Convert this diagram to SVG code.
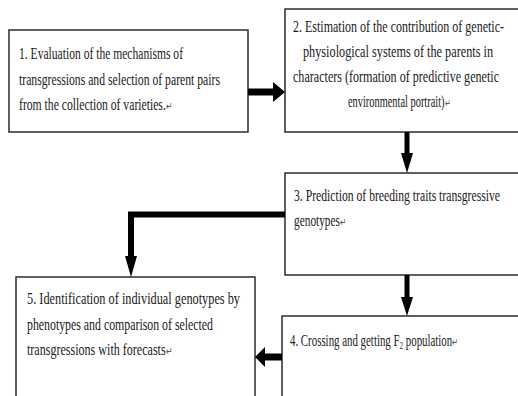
<svg xmlns="http://www.w3.org/2000/svg" width="518" height="396" viewBox="0 0 518 396">
<style>
.box{fill:#fff;stroke:#2b2b2b;stroke-width:1.5}
.t{font-family:"Liberation Serif","Times New Roman",serif;font-size:17px;fill:#1a1a1a}
.pm{font-size:11px;fill:#555}
.c{stroke:#000;fill:none}
.h{fill:#000;stroke:none}
</style>
<rect width="518" height="396" fill="#fff"/>
<g id="node1">
<rect class="box" x="9" y="30" width="239" height="102"/>
<text class="t" x="19" y="59" textLength="164" lengthAdjust="spacingAndGlyphs">1. Evaluation of the mechanisms of</text>
<text class="t" x="19" y="85" textLength="201" lengthAdjust="spacingAndGlyphs">transgressions and selection of parent pairs</text>
<text class="t" x="19" y="110" textLength="153" lengthAdjust="spacingAndGlyphs">from the collection of varieties.<tspan class="pm">↵</tspan></text>
</g>
<g id="node2">
<rect class="box" x="285" y="9" width="240" height="123"/>
<text class="t" x="293" y="32" textLength="211" lengthAdjust="spacingAndGlyphs">2. Estimation of the contribution of genetic-</text>
<text class="t" x="303" y="57" textLength="190" lengthAdjust="spacingAndGlyphs">physiological systems of the parents in</text>
<text class="t" x="293" y="82" textLength="206" lengthAdjust="spacingAndGlyphs">characters (formation of predictive genetic</text>
<text class="t" x="348" y="107" textLength="102" lengthAdjust="spacingAndGlyphs">environmental portrait)<tspan class="pm">↵</tspan></text>
</g>
<g id="node3">
<rect class="box" x="285" y="173" width="240" height="102"/>
<text class="t" x="294" y="201" textLength="206" lengthAdjust="spacingAndGlyphs">3. Prediction of breeding traits transgressive</text>
<text class="t" x="294" y="226" textLength="52" lengthAdjust="spacingAndGlyphs">genotypes<tspan class="pm">↵</tspan></text>
</g>
<g id="node4">
<rect class="box" x="282" y="316" width="243" height="90"/>
<text class="t" x="290" y="346" textLength="168" lengthAdjust="spacingAndGlyphs">4. Crossing and getting F<tspan font-size="11" dy="3">2</tspan><tspan dy="-3"> population</tspan><tspan class="pm">↵</tspan></text>
</g>
<g id="node5">
<rect class="box" x="16" y="277" width="239" height="130"/>
<text class="t" x="27" y="304" textLength="213" lengthAdjust="spacingAndGlyphs">5. Identification of individual genotypes by</text>
<text class="t" x="27" y="330" textLength="186" lengthAdjust="spacingAndGlyphs">phenotypes and comparison of selected</text>
<text class="t" x="27" y="355" textLength="145" lengthAdjust="spacingAndGlyphs">transgressions with forecasts<tspan class="pm">↵</tspan></text>
</g>
<g id="connectors">
<line class="c" x1="248" y1="92" x2="274" y2="92" stroke-width="7"/>
<polygon class="h" points="273,82 285,92 273,102"/>
<line class="c" x1="407" y1="132" x2="407" y2="154" stroke-width="5"/>
<polygon class="h" points="401,153 413,153 407,173"/>
<polyline class="c" points="285,214.5 131,214.5 131,257" stroke-width="6"/>
<polygon class="h" points="125,256 137,256 131,277"/>
<line class="c" x1="407" y1="275" x2="407" y2="298" stroke-width="5"/>
<polygon class="h" points="401,297 413,297 407,316"/>
<line class="c" x1="282" y1="357" x2="263" y2="357" stroke-width="7"/>
<polygon class="h" points="265,347 255,357 265,367"/>
</g>
</svg>
